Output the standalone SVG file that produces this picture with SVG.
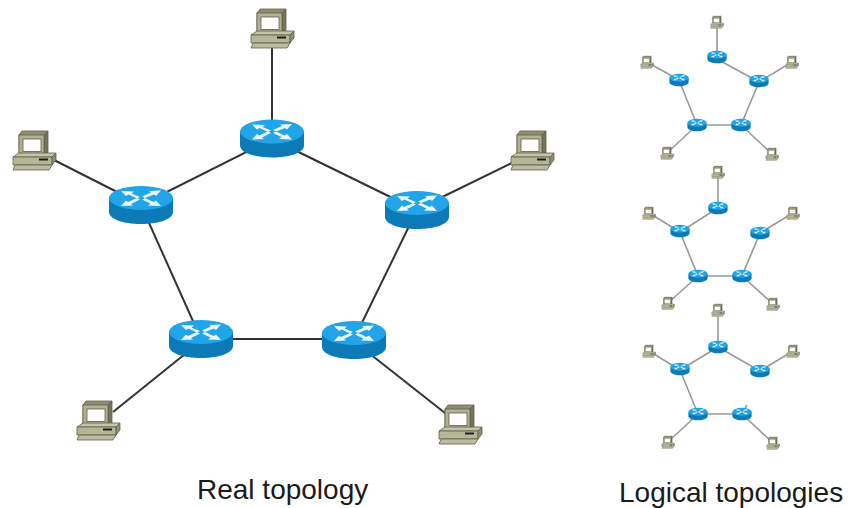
<svg xmlns="http://www.w3.org/2000/svg" width="848" height="508" viewBox="0 0 848 508">
<style>
text{font-family:"Liberation Sans",Arial,sans-serif;font-size:28px;fill:#1a1a1a}
.big line{stroke:#333;stroke-width:2}
.small line{stroke:#999;stroke-width:1.6}
.big-node{filter:url(#crisp)}
.small-node{filter:url(#soft)}
.pc-line{stroke:#5f5f49;stroke-width:.8}
</style>
<defs>
<filter id="soft" x="-20%" y="-20%" width="140%" height="140%"><feGaussianBlur stdDeviation="0.55"/></filter>
<filter id="crisp" x="-10%" y="-10%" width="120%" height="120%"><feGaussianBlur stdDeviation="0.4"/></filter>
<g id="router">
<path d="M-32-7V7C-32 14-18 19 0 19S32 14 32 7V-7Z" fill="#0a7ab8"/>
<ellipse cx="0" cy="-7" rx="32" ry="12" fill="#22a4e8"/>
<g fill="#eaf7fd">
<path d="M-20-14L-7-13.500L-9.500-11.500L-1-8L-4-6.500L-12.500-10.500L-15-9Z"/>
<path d="M20-14.500L8-14L10-12.500L1-8.500L4-7L13-10.500L15-9Z"/>
<path d="M-20 1L-8 .5L-10-1L-1-5.500L-4-7L-13-3L-15-4.500Z"/>
<path d="M20 1L7 .5L9.500-1.500L1-5.500L4-7L12.500-3L15-4.500Z"/>
</g>
</g>
<g id="pc" class="pc-line">
<path d="M-15-15L-12-19H14L11-15V5H-15Z" fill="#8e8e72"/>
<path d="M10-15L14-19V3L10 7Z" fill="#74745a"/>
<rect x="-15" y="-15" width="25" height="21" fill="#b1b194"/>
<rect x="-11" y="-11" width="18" height="12.500" fill="#fff"/>
<path d="M-21 7L-15 3H22L18 7Z" fill="#c4c4a8"/>
<path d="M-21 7H18V15H-21Z" fill="#b5b598"/>
<path d="M18 7L22 3V10L18 15Z" fill="#8e8e72"/>
<rect x="5" y="8.500" width="9" height="2" fill="#1e1e1e" stroke="none"/>
<path d="M-19 15H18L15 20H-21Z" fill="#bcbca0"/>
</g>
<use id="sr" href="#router" transform="scale(.3,.33)"/>
<use id="sp" href="#pc" transform="scale(.3,.32)"/>
</defs>
<rect width="848" height="508" fill="#fff"/>

<g id="connectors">
<g class="big">
<line x1="272" y1="45" x2="272" y2="125"/>
<line x1="272" y1="139" x2="141" y2="205"/>
<line x1="272" y1="139" x2="417" y2="210"/>
<line x1="141" y1="205" x2="201" y2="339"/>
<line x1="417" y1="210" x2="354" y2="339"/>
<line x1="201" y1="339" x2="354" y2="339"/>
<line x1="50" y1="158" x2="125" y2="196"/>
<line x1="518" y1="160" x2="430" y2="203"/>
<line x1="113" y1="412" x2="190" y2="350"/>
<line x1="445" y1="413" x2="365" y2="350"/>
</g>
<g class="small">
<line x1="717" y1="22" x2="717" y2="57"/><line x1="717" y1="59" x2="759" y2="82"/><line x1="647" y1="62" x2="679" y2="80"/><line x1="792" y1="62" x2="759" y2="82"/><line x1="679" y1="80" x2="697" y2="125"/><line x1="759" y1="82" x2="741" y2="125"/><line x1="697" y1="125" x2="741" y2="125"/><line x1="667" y1="153" x2="697" y2="125"/><line x1="772" y1="154" x2="741" y2="125"/>
<line x1="718" y1="172" x2="718" y2="208"/><line x1="718" y1="208" x2="680" y2="232"/><line x1="649" y1="213" x2="680" y2="232"/><line x1="793" y1="213" x2="760" y2="233"/><line x1="680" y1="232" x2="698" y2="276"/><line x1="760" y1="233" x2="742" y2="276"/><line x1="698" y1="276" x2="742" y2="276"/><line x1="668" y1="303" x2="698" y2="276"/><line x1="773" y1="304" x2="742" y2="276"/>
<line x1="718" y1="310" x2="718" y2="347"/><line x1="718" y1="347" x2="680" y2="370"/><line x1="718" y1="347" x2="760" y2="371"/><line x1="649" y1="351" x2="680" y2="370"/><line x1="793" y1="351" x2="760" y2="371"/><line x1="680" y1="370" x2="698" y2="414"/><line x1="698" y1="414" x2="742" y2="414"/><line x1="668" y1="442" x2="698" y2="414"/><line x1="773" y1="443" x2="742" y2="414"/><line x1="745" y1="408" x2="747" y2="405"/>
</g>
</g>

<g id="r1" class="big-node"><use href="#router" x="272" y="138.500"/></g>
<g id="r2" class="big-node"><use href="#router" x="141" y="205"/></g>
<g id="r3" class="big-node"><use href="#router" x="417" y="210"/></g>
<g id="r4" class="big-node"><use href="#router" x="201" y="339"/></g>
<g id="r5" class="big-node"><use href="#router" x="354" y="340"/></g>
<g id="p1" class="big-node"><use href="#pc" x="272" y="28"/></g>
<g id="p2" class="big-node"><use href="#pc" x="34" y="150"/></g>
<g id="p3" class="big-node"><use href="#pc" x="532" y="150"/></g>
<g id="p4" class="big-node"><use href="#pc" x="98" y="420"/></g>
<g id="p5" class="big-node"><use href="#pc" x="460" y="424"/></g>

<g id="logical-1" class="small-node">
<use href="#sr" x="717" y="57"/><use href="#sr" x="679" y="80"/><use href="#sr" x="759" y="81"/><use href="#sr" x="697" y="125"/><use href="#sr" x="741" y="125"/>
<use href="#sp" x="717" y="22"/><use href="#sp" x="647" y="62"/><use href="#sp" x="792" y="62"/><use href="#sp" x="667" y="153"/><use href="#sp" x="772" y="154"/>
</g>
<g id="logical-2" class="small-node">
<use href="#sr" x="718" y="208"/><use href="#sr" x="680" y="231"/><use href="#sr" x="760" y="233"/><use href="#sr" x="698" y="276"/><use href="#sr" x="742" y="276"/>
<use href="#sp" x="718" y="172"/><use href="#sp" x="649" y="213"/><use href="#sp" x="793" y="213"/><use href="#sp" x="668" y="303"/><use href="#sp" x="773" y="304"/>
</g>
<g id="logical-3" class="small-node">
<use href="#sr" x="718" y="347"/><use href="#sr" x="680" y="369"/><use href="#sr" x="760" y="371"/><use href="#sr" x="698" y="414"/><use href="#sr" x="742" y="414"/>
<use href="#sp" x="718" y="310"/><use href="#sp" x="649" y="351"/><use href="#sp" x="793" y="351"/><use href="#sp" x="668" y="442"/><use href="#sp" x="773" y="443"/>
</g>

<text x="197" y="499">Real topology</text>
<text x="619" y="502">Logical topologies</text>
</svg>
